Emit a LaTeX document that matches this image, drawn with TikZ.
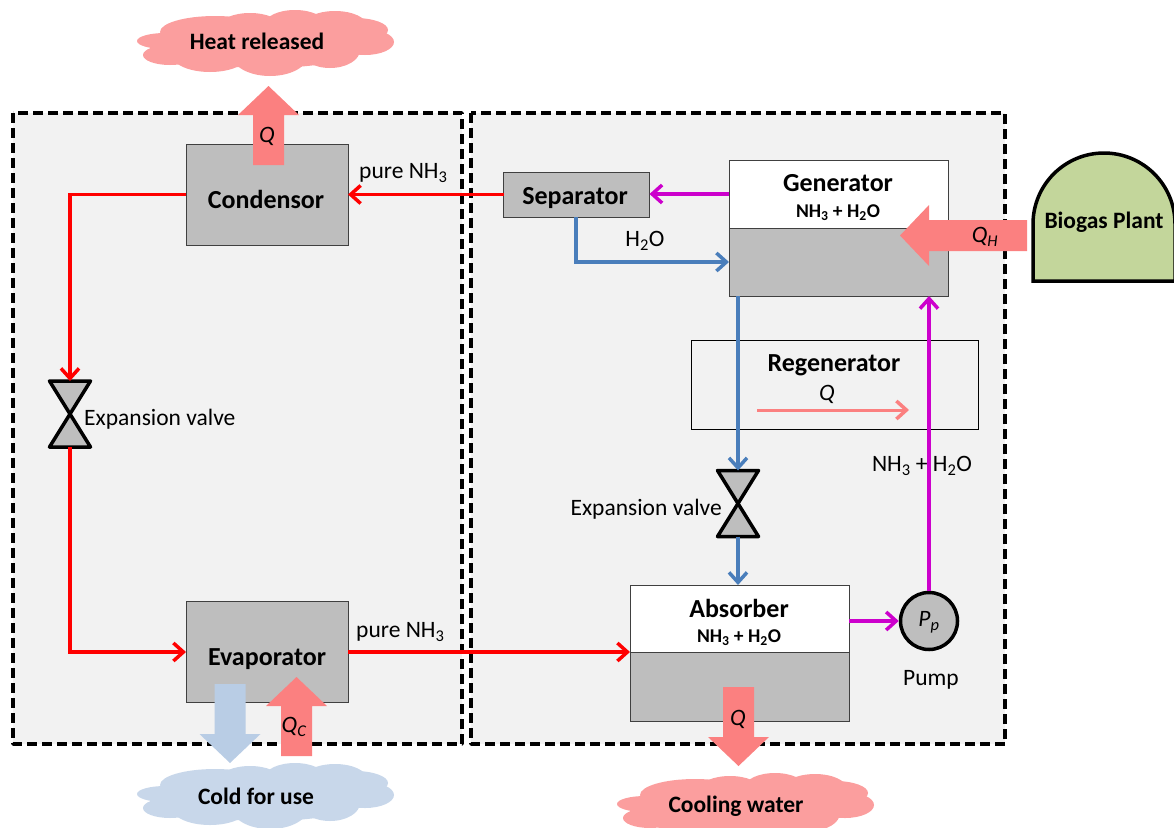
\documentclass[tikz,border=0pt]{standalone}
\usepackage{fontspec}
\setmainfont{Carlito}
\usetikzlibrary{arrows.meta}
\definecolor{heat}{HTML}{FB8080}
\definecolor{pinkcloud}{HTML}{FB9E9E}
\definecolor{coldcloud}{HTML}{C8D7EA}
\definecolor{coldarrow}{HTML}{B9CDE5}
\definecolor{unitgray}{HTML}{BEBEBE}
\definecolor{panel}{HTML}{F2F2F2}
\definecolor{bluepipe}{HTML}{4A7EBB}
\definecolor{purplepipe}{HTML}{CC00CC}
\definecolor{biogas}{HTML}{C3D69B}
\tikzset{
  panelbox/.style={draw=black,fill=panel,line width=3.5pt,dash pattern=on 10pt off 5pt,line join=round},
  unitbox/.style={draw=black!75,line width=1pt,fill=unitgray,inner sep=0pt,outer sep=0pt,anchor=north west},
  txt/.style={font=\fontsize{23.5}{26}\selectfont,inner sep=0pt},
  qtxt/.style={font=\fontsize{23.5}{26}\selectfont\itshape,inner sep=0pt},
  unitname/.style={font=\fontsize{26}{30}\selectfont\bfseries,inner sep=0pt},
  mixname/.style={font=\fontsize{19.5}{22}\selectfont\bfseries,inner sep=0pt},
  cloudname/.style={font=\fontsize{23.5}{26}\selectfont\bfseries,inner sep=0pt},
  valvebox/.style={inner sep=0pt,outer sep=0pt,minimum width=41pt,minimum height=66pt},
  pipe/.style={line width=3.5pt,-{Straight Barb[length=10pt,width=18pt,line width=3.5pt]}},
  redpipe/.style={draw=red},
  blupipe/.style={draw=bluepipe},
  purpipe/.style={draw=purplepipe}
}
\newcommand{\fatarrow}[5]{% tail x, tail y, angle, length, colour
  \fill[#5,shift={(#1,#2)},rotate=#3] (0,-15.5)--(#4-29,-15.5)--(#4-29,-30.5)--(#4,0)--(#4-29,30.5)--(#4-29,15.5)--(0,15.5)--cycle;}
\newcommand{\puffcloud}[3]{% centre x, centre y, colour
  \foreach \dx/\dy/\rx/\ry in {-101/-2/28/8,-96/12/27/10,-51/-11/55/16,-16/-17/30/13,29/-19/30/14,69/-17/32/15,89/-13/33/12,99/-1/29/13,64/7/30/18,4/12/38/21,-56/12/38/17,0/0/105/25}
    \fill[#3] (#1+\dx,#2+\dy) ellipse[x radius=\rx,y radius=\ry];}
\begin{document}
\begin{tikzpicture}[x=1pt,y=-1pt]
\useasboundingbox (0,0) rectangle (1174,827);
\clip (0,0) rectangle (1174,827);
\draw[panelbox] (13,113) rectangle (462,744);
\draw[panelbox] (471,113) rectangle (1005,744);
% clouds
\puffcloud{266}{43}{pinkcloud}
\puffcloud{266}{796}{coldcloud}
\puffcloud{746}{806}{pinkcloud}
% units
\node[unitbox,minimum width=162pt,minimum height=101pt] (condensor) at (186,144) {};
\node[unitbox,minimum width=162pt,minimum height=101pt] (evaporator) at (186,601.5) {};
\node[unitbox,minimum width=146pt,minimum height=45pt] (separator) at (503.5,172) {};
\node[unitbox,fill=white,minimum width=219pt,minimum height=68pt] (gentop) at (729,160) {};
\node[unitbox,minimum width=219pt,minimum height=68pt] (genlow) at (729,228) {};
\node[unitbox,fill=none,line width=.8pt,draw=black,minimum width=287pt,minimum height=89.5pt] (regenerator) at (691,340) {};
\node[unitbox,fill=white,minimum width=219pt,minimum height=67pt] (abstop) at (630,585) {};
\node[unitbox,minimum width=219pt,minimum height=69pt] (abslow) at (630,652) {};
\node[draw=black,line width=3.5pt,fill=unitgray,circle,inner sep=0pt,minimum size=57pt] (pump) at (929,621) {};
\node[valvebox] (valveL) at (70,414) {};
\node[valvebox] (valveR) at (738,503.5) {};
\foreach \v in {valveL,valveR}
  \draw[line width=3.5pt,line join=round,fill=unitgray] (\v.north west)--(\v.north east)--(\v.south west)--(\v.south east)--cycle;
\draw[line width=3.5pt,fill=biogas] (1033,281)--(1033,224) arc[start angle=180,end angle=360,x radius=71,y radius=71]--(1175,281)--cycle;
% pipes
\coordinate (sepout) at (separator.west|-condensor.east);
\draw[pipe,redpipe] (sepout)--(condensor.east);
\draw[pipe,redpipe] (condensor.west)-|(valveL.north);
\draw[pipe,redpipe] (valveL.south)|-(evaporator.west);
\draw[pipe,redpipe] (evaporator.east)--(abslow.north west);
\draw[pipe,purpipe] (gentop.west)--(separator.east|-gentop.west);
\coordinate (sepdown) at (576,217);
\draw[pipe,blupipe] (sepdown)|-(genlow.west);
\draw[pipe,blupipe] (valveR.north|-genlow.south)--(valveR.north);
\draw[pipe,blupipe] (valveR.south)--(valveR.south|-abstop.north);
\draw[pipe,purpipe] (abstop.east|-pump.west)--(pump.west);
\draw[pipe,purpipe] (pump.north)--(pump.north|-genlow.south);
\coordinate (regenL) at (757,410);
\coordinate (regenR) at (909,410);
\draw[pipe,draw=heat,line width=3pt] (regenL)--(regenR);
% heat flows
\fatarrow{268.5}{165}{90}{79}{heat}
\fatarrow{296.5}{756}{90}{79}{heat}
\fatarrow{230}{684}{-90}{79}{coldarrow}
\fatarrow{738.5}{687}{-90}{79}{heat}
\fatarrow{1027}{235.5}{180}{127}{heat}
% texts
\node[cloudname] (heatname) at (257,41) {Heat released};
\node[cloudname] (coldname) at (256,796) {Cold for use};
\node[cloudname] (watername) at (736,806) {Cooling water};
\node[unitname] (condname) at (266,199) {Condensor};
\node[unitname] (evapname) at (267,659) {Evaporator};
\node[unitname] (sepname) at (575,198) {Separator};
\node[unitname] (genname) at (838,183) {Generator};
\node[unitname] (regname) at (834,365) {Regenerator};
\node[unitname] (absname) at (739,608) {Absorber};
\node[mixname] (genmix) at (838,213) {NH\textsubscript{3} + H\textsubscript{2}O};
\node[mixname] (absmix) at (739,638) {NH\textsubscript{3} + H\textsubscript{2}O};
\node[cloudname] (plantname) at (1104,222) {Biogas Plant};
\node[txt,anchor=west] (pureA) at (359,173) {pure NH\textsubscript{3}};
\node[txt,anchor=west] (pureB) at (356,632) {pure NH\textsubscript{3}};
\node[txt] (h2oname) at (645,241) {H\textsubscript{2}O};
\node[txt,anchor=west] (valveAname) at (84,419) {Expansion valve};
\node[txt,anchor=east] (valveBname) at (722,509) {Expansion valve};
\node[txt] (mixname) at (922,466) {NH\textsubscript{3} + H\textsubscript{2}O};
\node[txt] (pumpname) at (931,680) {Pump};
\node[qtxt] (qtop) at (267,136) {Q};
\node[qtxt] (qreg) at (827,394) {Q};
\node[qtxt] (qabs) at (738,719) {Q};
\node[qtxt] (qc) at (294,727) {Q\textsubscript{C}};
\node[qtxt] (qh) at (985,237) {Q\textsubscript{H}};
\node[qtxt] (pp) at (929,622) {P\textsubscript{p}};
\end{tikzpicture}
\end{document}
